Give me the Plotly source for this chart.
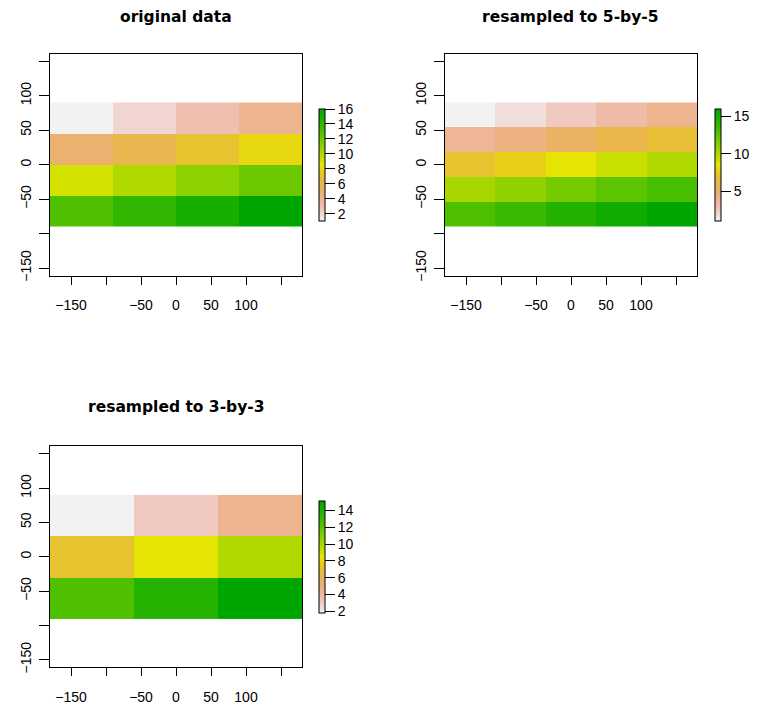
import colorsys
import plotly.graph_objects as go

# Raster values (rows listed top to bottom), extent -180..180 x -90..90
original_data = [
    [1, 2, 3, 4],
    [5, 6, 7, 8],
    [9, 10, 11, 12],
    [13, 14, 15, 16],
]
resampled_5 = [
    [1.0, 1.7, 2.5, 3.3, 4.0],
    [3.8, 4.5, 5.3, 6.1, 6.8],
    [7.0, 7.7, 8.5, 9.3, 10.0],
    [10.2, 10.9, 11.7, 12.5, 13.2],
    [13.0, 13.7, 14.5, 15.3, 16.0],
]
resampled_3 = [
    [1.83, 3.17, 4.5],
    [7.17, 8.5, 9.83],
    [12.5, 13.83, 15.17],
]
titles = ["original data", "resampled to 5-by-5", "resampled to 3-by-3"]
axis_ticks = [-150, -100, -50, 0, 50, 100, 150]
axis_labels = ["\u2212150", "", "\u221250", "0", "50", "100", ""]
bar_ticks = [[2, 4, 6, 8, 10, 12, 14, 16], [5, 10, 15], [2, 4, 6, 8, 10, 12, 14]]
extent = (-180, 180, -90, 90)

W, H = 759, 708


def terrain_colors(n):
    """R's terrain.colors palette (green -> yellow -> pale grey)."""
    k = n // 2
    def seq(a, b, m):
        return [a + (b - a) * i / (m - 1) for i in range(m)] if m > 1 else [a]
    cols = []
    hs, ss, vs = seq(4 / 12, 2 / 12, k), seq(1, 1, k), seq(0.65, 0.9, k)
    for h, s, v in zip(hs, ss, vs):
        cols.append(colorsys.hsv_to_rgb(h, s, v))
    m = n - k + 1
    hs, ss, vs = seq(2 / 12, 0, m)[1:], seq(1, 0, m)[1:], seq(0.9, 0.95, m)[1:]
    for h, s, v in zip(hs, ss, vs):
        cols.append(colorsys.hsv_to_rgb(h, s, v))
    return ["rgb(%d,%d,%d)" % tuple(round(c * 255) for c in rgb) for rgb in cols]


pal = terrain_colors(255)[::-1]
colorscale = [[i / (len(pal) - 1), c] for i, c in enumerate(pal)]


def centers(lo, hi, n, descending=False):
    step = (hi - lo) / n
    c = [lo + (i + 0.5) * step for i in range(n)]
    return c[::-1] if descending else c


# panel boxes in pixels: (left, right, top, bottom)
boxes = [(50, 302, 54, 278), (445, 697, 54, 278), (50, 302, 450, 673)]
bar_pos = [(319, 110, 14), (715, 110, 14), (319, 505, 14)]
title_pos = [(176, 17), (570, 17), (176, 410)]
datasets = [original_data, resampled_5, resampled_3]

fig = go.Figure()
for i, z in enumerate(datasets):
    nr, nc = len(z), len(z[0])
    xs = centers(extent[0], extent[1], nc)
    ys = centers(extent[2], extent[3], nr, descending=True)
    flat = [v for row in z for v in row]
    bx, by, bfs = bar_pos[i]
    suffix = "" if i == 0 else str(i + 1)
    fig.add_trace(go.Heatmap(
        z=z, x=xs, y=ys, colorscale=colorscale,
        zmin=min(flat), zmax=max(flat),
        xaxis="x" + suffix, yaxis="y" + suffix,
        hoverinfo="skip",
        colorbar=dict(
            thickness=6, thicknessmode="pixels",
            len=112, lenmode="pixels",
            x=bx / W, xanchor="left", xpad=0,
            y=1 - by / H, yanchor="top", ypad=0,
            outlinewidth=1, outlinecolor="black",
            ticks="outside", ticklen=10, tickwidth=1, tickcolor="black",
            tickvals=bar_ticks[i],
            tickfont=dict(family="Liberation Sans", size=bfs, color="black"),
        ),
    ))
    l, r, t, b = boxes[i]
    common = dict(
        showgrid=False, zeroline=False, showline=True, linecolor="black",
        linewidth=1, mirror=True, ticks="outside", tickwidth=1,
        tickcolor="black", tickvals=axis_ticks, ticktext=axis_labels,
        tickfont=dict(family="Liberation Sans", size=14, color="black"),
    )
    fig.update_layout(**{
        "xaxis" + suffix: dict(common, domain=[l / W, r / W], range=[-180, 180],
                               ticklen=8, ticklabelstandoff=9,
                               anchor="y" + suffix),
        "yaxis" + suffix: dict(common, domain=[1 - b / H, 1 - t / H],
                               range=[-161, 161], tickangle=-90, ticklen=10,
                               ticklabelstandoff=2,
                               anchor="x" + suffix),
    })
    tx, ty = title_pos[i]
    fig.add_annotation(
        text=titles[i], x=tx / W, y=1 - ty / H, xref="paper", yref="paper",
        xanchor="center", yanchor="middle", showarrow=False,
        font=dict(family="DejaVu Sans", size=15.5, color="black", weight="bold"),
    )

fig.update_layout(
    width=W, height=H, margin=dict(l=0, r=0, t=0, b=0),
    paper_bgcolor="white", plot_bgcolor="white", showlegend=False,
)
fig.write_html("out.html")
